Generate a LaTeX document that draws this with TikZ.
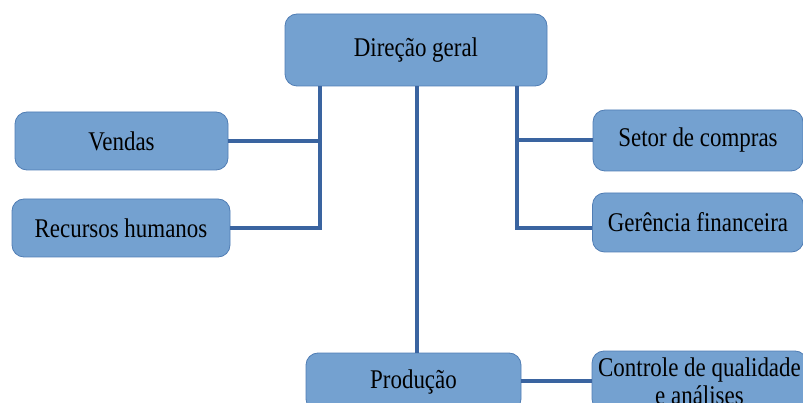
\documentclass[tikz,border=0pt]{standalone}
\usepackage{fontspec}
\setmainfont{Liberation Serif}[FakeStretch=0.85]
\definecolor{boxfill}{RGB}{116,161,208}
\definecolor{boxline}{RGB}{80,125,180}
\definecolor{conn}{RGB}{58,100,160}
\begin{document}
\begin{tikzpicture}[x=1pt,y=-1pt,
  box/.style={draw=boxline,line width=0.8pt,fill=boxfill,rounded corners=12pt,
    inner sep=0pt,align=center,font=\fontsize{27}{28}\selectfont},
  link/.style={draw=conn,line width=4pt}]
\useasboundingbox (0,0) rectangle (803,403);
\clip (0,0) rectangle (803,403);
\node[box,minimum width=262pt,minimum height=72pt] (dir) at (416,50) {Direção geral};
\node[box,minimum width=213pt,minimum height=58pt] (ven) at (121.5,141) {Vendas};
\node[box,minimum width=218pt,minimum height=58pt] (rh) at (121,228) {Recursos humanos};
\node[box,minimum width=210pt,minimum height=61pt] (set) at (698,140.5) {Setor de compras};
\node[box,minimum width=211pt,minimum height=59pt] (ger) at (698,222.5) {Gerência financeira};
\node[box,minimum width=215pt,minimum height=58pt] (pro) at (413.5,382) {Produção};
\node[box,minimum width=215pt,minimum height=60pt] (ctl) at (699.5,381) {Controle de qualidade\\e análises};
\coordinate (lj) at (320,228);
\coordinate (rj) at (517,228);
\coordinate (mj) at (417,0);
\draw[link] (dir.south -| lj) -- (lj) -- (rh.east |- lj);
\draw[link] (ven.east) -- (ven.east -| lj);
\draw[link] (dir.south -| rj) -- (rj) -- (ger.west |- rj);
\draw[link] (set.west) -- (set.west -| rj);
\draw[link] (dir.south -| mj) -- (pro.north -| mj);
\draw[link] (pro.east |- ctl.west) -- (ctl.west);
\end{tikzpicture}
\end{document}
